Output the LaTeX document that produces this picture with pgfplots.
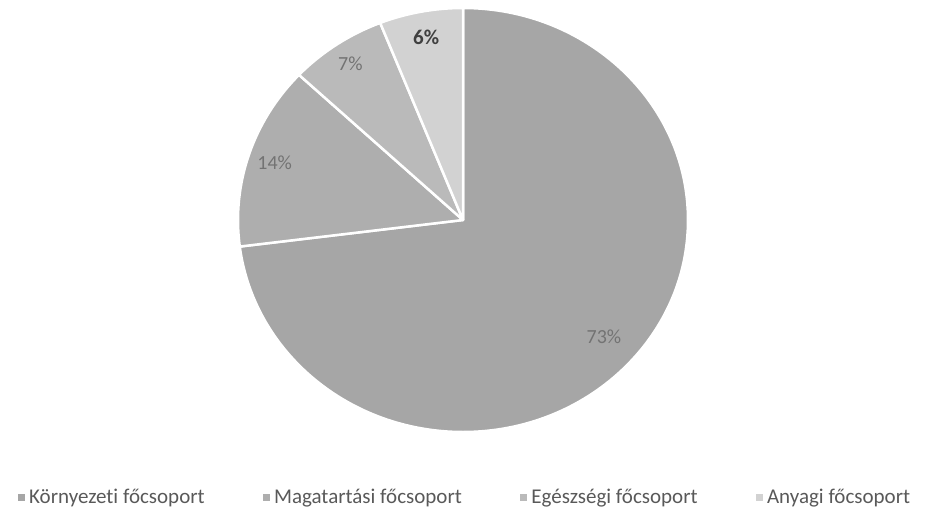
\documentclass[border=0pt]{standalone}
\usepackage{pgfplots}
\pgfplotsset{compat=1.18}
\usepackage{pgfplotstable}
\usepackage{fontspec}
\setmainfont{Carlito}[Ligatures=NoCommon]

\definecolor{s0}{RGB}{166,166,166}
\definecolor{s1}{RGB}{174,174,174}
\definecolor{s2}{RGB}{186,186,186}
\definecolor{s3}{RGB}{210,210,210}
\definecolor{legtext}{RGB}{89,89,89}
\definecolor{labgray}{RGB}{115,115,115}

\tikzset{
  lab0/.style={text=labgray, font=\fontsize{20}{22}\selectfont},
  lab1/.style={text=labgray, font=\fontsize{20}{22}\selectfont},
  lab2/.style={text=labgray, font=\fontsize{20}{22}\selectfont},
  lab3/.style={text=black!75, font=\bfseries\fontsize{21}{23}\selectfont},
}

% share in percent, label radius (fraction of pie radius)
\pgfplotstableread{
value lr
73 0.835
14 0.88
7  0.89
6  0.875
}\piedata

\begin{document}
\begin{tikzpicture}
\begin{axis}[
    hide axis,
    scale only axis,
    width=450pt, height=424pt,
    xmin=-1, xmax=1, ymin=-1, ymax=1,
    legend columns=4,
    legend cell align=left,
    legend style={draw=none, fill=none,
        at={(axis description cs:0.5,0)}, anchor=center, xshift=2pt, yshift=-65pt,
        font=\fontsize{21}{23}\selectfont, text=legtext,
        /tikz/every odd column/.append style={column sep=3pt},
        /tikz/every even column/.append style={column sep=56pt}},
]
\def\cum{0}
\pgfplotsforeachungrouped \i in {0,...,3}{
  \pgfplotstablegetelem{\i}{value}\of\piedata \let\v\pgfplotsretval
  \pgfplotstablegetelem{\i}{lr}\of\piedata \let\lr\pgfplotsretval
  \pgfmathsetmacro\a{90-3.6*\cum}
  \pgfmathsetmacro\b{90-3.6*(\cum+\v)}
  \pgfmathsetmacro\m{(\a+\b)/2}
  \edef\doit{%
    \noexpand\fill[s\i, draw=white, line width=2.5pt, line join=round]
      (axis cs:0,0) -- (axis cs:{cos(\a)},{sin(\a)})
      arc[start angle=\a, end angle=\b, x radius=225pt, y radius=212pt] -- cycle;
    \noexpand\node[lab\i] at (axis cs:{\lr*cos(\m)},{\lr*sin(\m)}) {\v\noexpand\%};
  }
  \doit
  \pgfmathsetmacro\cum{\cum+\v}
}

\addlegendimage{legend image code/.code={\fill[s0] (-3pt,-3pt) rectangle (3pt,3pt);}}
\addlegendentry{Környezeti főcsoport}
\addlegendimage{legend image code/.code={\fill[s1] (-3pt,-3pt) rectangle (3pt,3pt);}}
\addlegendentry{Magatartási főcsoport}
\addlegendimage{legend image code/.code={\fill[s2] (-3pt,-3pt) rectangle (3pt,3pt);}}
\addlegendentry{Egészségi főcsoport}
\addlegendimage{legend image code/.code={\fill[s3] (-3pt,-3pt) rectangle (3pt,3pt);}}
\addlegendentry{Anyagi főcsoport}
\end{axis}
\path[use as bounding box] (-238pt,-85pt) rectangle (688pt,432pt);
\end{tikzpicture}
\end{document}
